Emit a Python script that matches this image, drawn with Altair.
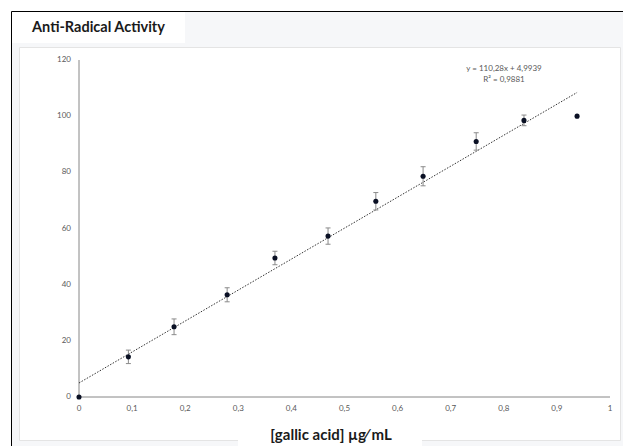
import altair as alt
import pandas as pd

# ---- data ----
conc = [0, 0.093, 0.179, 0.279, 0.369, 0.469, 0.559, 0.648, 0.748, 0.838, 0.938]
activity = [0, 14.3, 25.0, 36.4, 49.5, 57.3, 69.7, 78.6, 91.0, 98.5, 100.0]
err = [0, 2.4, 2.8, 2.5, 2.4, 2.9, 3.1, 3.4, 3.1, 1.9, 0]

trend_x = [0, 0.938]
slope, intercept = 110.28, 4.9939
eq_lines = ["y = 110,28x + 4,9939", "R² = 0,9881"]
x_ticks = [0, 0.1, 0.2, 0.3, 0.4, 0.5, 0.6, 0.7, 0.8, 0.9, 1]
x_labels = ["0", "0,1", "0,2", "0,3", "0,4", "0,5", "0,6", "0,7", "0,8", "0,9", "1"]
y_ticks = [0, 20, 40, 60, 80, 100, 120]
y_labels = ["0", "20", "40", "60", "80", "100", "120"]

df = pd.DataFrame({"x": conc, "y": activity, "e": err})
df["lo"] = df["y"] - df["e"]
df["hi"] = df["y"] + df["e"]
df_err = df[df["e"] > 0]
trend = pd.DataFrame({"x": trend_x, "y": [slope * v + intercept for v in trend_x]})
xt = pd.DataFrame({"x": x_ticks, "label": x_labels})
yt = pd.DataFrame({"y": y_ticks, "label": y_labels})
axis_lines = pd.DataFrame({"x": [0, 0], "x2": [1, 0], "y": [0, 0], "y2": [0, 120]})
one = pd.DataFrame({"a": [0]})

FONT = "Lato"
# the view is the white panel; the plot region sits inside it
W, H = 601, 393

xs = alt.Scale(domain=[0, 1], nice=False, range=[60, 591])
ys = alt.Scale(domain=[0, 120], nice=False, range=[350, 13])
Xn = alt.X("x:Q", scale=xs, axis=None)
Yn = alt.Y("y:Q", scale=ys, axis=None)

def box(x1, x2, y1, y2, fill):
    return alt.Chart(one).mark_rect(fill=fill).encode(
        x=alt.value(x1), x2=alt.value(x2), y=alt.value(y1), y2=alt.value(y2))

# axes built from the scales
ax_lines = alt.Chart(axis_lines).mark_rule(color="#868686", strokeWidth=1).encode(
    x=Xn, x2="x2:Q", y=Yn, y2="y2:Q")
ax_xlab = alt.Chart(xt).mark_text(font=FONT, fontSize=8, color="#595959",
                                  align="center", baseline="middle").encode(
    x=Xn, y=alt.value(362), text="label:N")
ax_ylab = alt.Chart(yt).mark_text(font=FONT, fontSize=8, color="#595959",
                                  align="right", baseline="middle").encode(
    y=Yn, x=alt.value(52), text="label:N")

margin_left = box(-19, -8, -47, 400, "#ffffff")
margin_top = box(-19, 610, -47, -36, "#ffffff")
border = alt.Chart(one).mark_rect(fill="transparent", stroke="#000000", strokeWidth=1).encode(
    x=alt.value(-7.5), x2=alt.value(612), y=alt.value(-35.5), y2=alt.value(402))
title_box = box(-7, 166, -35, -4, "#ffffff")
xtitle_box = box(219, 403, 373, 400, "#ffffff")

title = alt.Chart(one).mark_text(text="Anti-Radical Activity", font=FONT, fontSize=14.5,
                                 fontWeight="bold", align="left", baseline="alphabetic",
                                 color="#1a1a1a").encode(x=alt.value(13), y=alt.value(-15))
xtitle = alt.Chart(one).mark_text(text="[gallic acid] µg⁄ mL", font=FONT, fontSize=15,
                                  fontWeight="bold", align="center", baseline="middle",
                                  color="#1a1a1a").encode(x=alt.value(312), y=alt.value(388))
eq = alt.Chart(one).mark_text(text=eq_lines, font=FONT, fontSize=8, align="center",
                              baseline="middle", color="#595959", lineHeight=11).encode(
    x=alt.value(485), y=alt.value(21.5))

trend_line = alt.Chart(trend).mark_line(color="#333333", strokeWidth=1,
                                        strokeDash=[1.5, 1.5]).encode(x=Xn, y=Yn)
err_rule = alt.Chart(df_err).mark_rule(color="#8a8a8a", strokeWidth=1).encode(
    x=Xn, y=alt.Y("lo:Q", scale=ys, axis=None), y2="hi:Q")
cap_lo = alt.Chart(df_err).mark_tick(orient="horizontal", size=5, thickness=1,
                                     color="#8a8a8a", opacity=1).encode(
    x=Xn, y=alt.Y("lo:Q", scale=ys, axis=None))
cap_hi = alt.Chart(df_err).mark_tick(orient="horizontal", size=5, thickness=1,
                                     color="#8a8a8a", opacity=1).encode(
    x=Xn, y=alt.Y("hi:Q", scale=ys, axis=None))
pts = alt.Chart(df).mark_circle(size=26, color="#0a1024", opacity=1).encode(x=Xn, y=Yn)

chart = alt.layer(margin_left, margin_top, border, title_box, xtitle_box,
                  ax_lines, ax_xlab, ax_ylab,
                  trend_line, err_rule, cap_lo, cap_hi, pts,
                  title, xtitle, eq).properties(
    width=W, height=H,
    autosize=alt.AutoSizeParams(type="none"),
    padding={"left": 19, "top": 47, "right": 3, "bottom": 6},
    background="#f6f7f9",
).configure_view(stroke="#e4e4e4", strokeWidth=1, fill="#ffffff")

chart.save("out.html", embed_options={"renderer": "svg", "actions": False})
